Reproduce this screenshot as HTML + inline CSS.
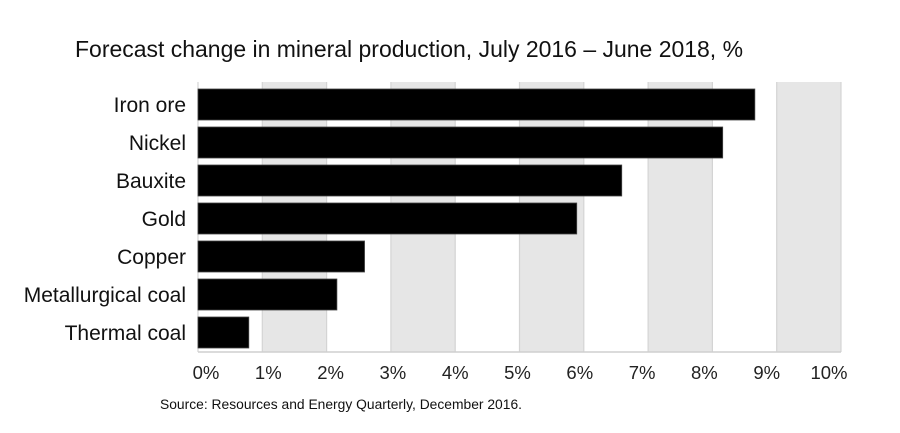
<!DOCTYPE html>
<html><head><meta charset="utf-8"><style>
html,body{margin:0;padding:0;background:#fff;}
svg{display:block;font-family:"Liberation Sans",Arial,sans-serif;}
</style></head><body>
<svg id="chart" width="900" height="433" viewBox="0 0 900 433">
<text x="75" y="57" font-size="22.8" fill="#111" textLength="668" lengthAdjust="spacingAndGlyphs">Forecast change in mineral production, July 2016 – June 2018, %</text>
<g id="bands"></g><g id="grid"></g><g id="bars"></g><g id="labels"></g><g id="ticks"></g>
<text x="160" y="409" font-size="13.5" fill="#111" textLength="362" lengthAdjust="spacingAndGlyphs">Source: Resources and Energy Quarterly, December 2016.</text>
</svg>
<script>
const categories = ["Iron ore","Nickel","Bauxite","Gold","Copper","Metallurgical coal","Thermal coal"];
const values = [8.66, 8.16, 6.59, 5.89, 2.59, 2.16, 0.79];
const tickValues = [0,1,2,3,4,5,6,7,8,9,10];
const tickLabels = ["0%","1%","2%","3%","4%","5%","6%","7%","8%","9%","10%"];
const NS="http://www.w3.org/2000/svg";
const X0=198, X1=841, XMAX=10, TOP=82, BOT=352;
const x=v=>X0+(v/XMAX)*(X1-X0);
const band=(BOT-TOP-4)/categories.length;
const y=i=>TOP+4+i*band;
function mk(tag,parent,attrs){const e=document.createElementNS(NS,tag);for(const k in attrs)e.setAttribute(k,attrs[k]);document.getElementById(parent).appendChild(e);return e;}
for(let i=0;i<tickValues.length-1;i+=1){
  if(i%2===1){
    const r=mk('rect','bands',{x:x(tickValues[i]),y:TOP,width:x(tickValues[i+1])-x(tickValues[i]),height:BOT-TOP,fill:'#e6e6e6'});
    
    
  }
}
tickValues.forEach((v,i)=>{
  const l=mk('line','grid',{x1:x(v),x2:x(v),y1:TOP,y2:BOT,stroke:'#d4d4d4','stroke-width':1.2});
  
  
  const t=mk('text','ticks',{x:x(v)+8-v*2,y:379,'font-size':18.5,fill:'#222','text-anchor':'middle'});
  t.textContent=tickLabels[i];
  
  
});
const ax=mk('line','grid',{x1:X0,x2:X1,y1:BOT,y2:BOT,stroke:'#cfcfcf','stroke-width':1.5});


categories.forEach((c,i)=>{
  const b=mk('rect','bars',{x:X0,y:y(i)+3,width:x(values[i])-X0,height:band-7,fill:'#000',stroke:'#444','stroke-width':0.8});
  
  
  const t=mk('text','labels',{x:186,y:y(i)+band/2+7,'font-size':21,fill:'#111','text-anchor':'end'});
  t.textContent=c;
  
  
});
</script>
</body></html>
